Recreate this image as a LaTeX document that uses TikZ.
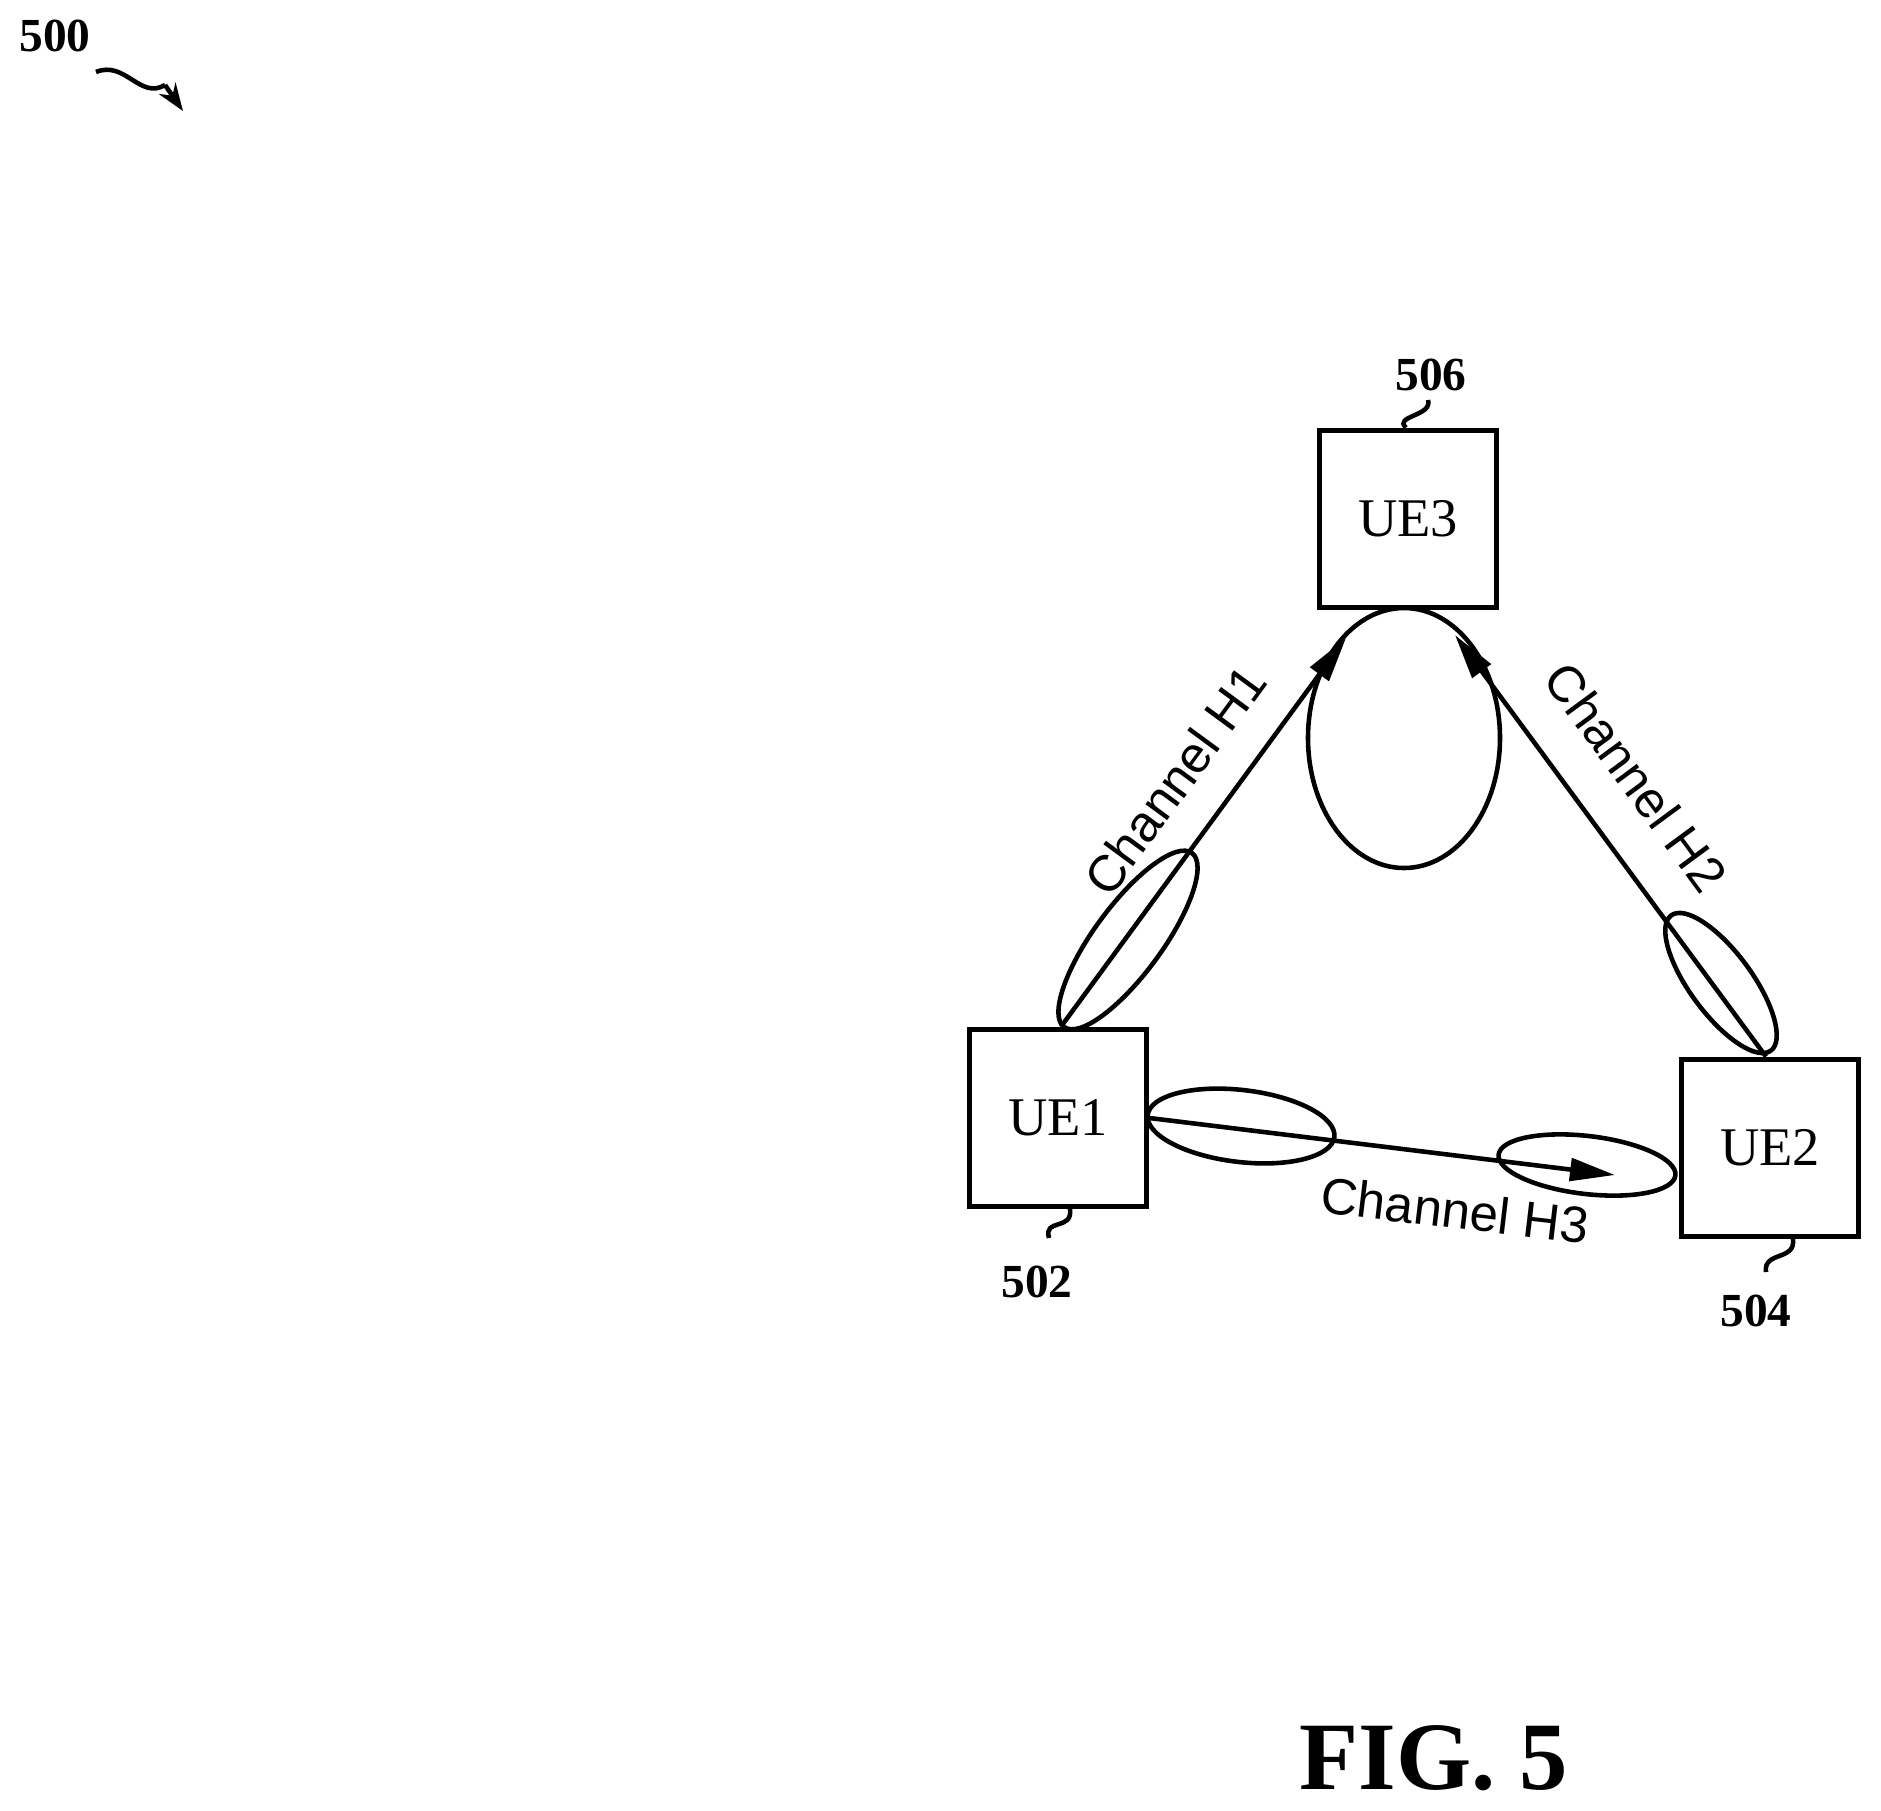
\documentclass[tikz,border=0pt]{standalone}
\usepackage{fontspec}
\setmainfont{Liberation Serif}
\newfontfamily\arialfont{Liberation Sans}
\usetikzlibrary{arrows.meta,positioning,shapes}

\begin{document}
\begin{tikzpicture} [x=0.02cm,y=-0.02cm,line width=2.6pt,
  ue/.style={draw,line width=3pt,minimum size=3.55cm,inner sep=0pt,font=\fontsize{31}{31}\selectfont},
  ref/.style={font=\bfseries\fontsize{27}{27}\selectfont},
  chan/.style={font=\arialfont\fontsize{29}{29}\selectfont},
  sig/.style={-{Triangle[length=0.9cm,width=0.45cm]}}]

  \useasboundingbox (0,0) rectangle (1881,1810);

  \begin{scope}[shift={(-7,-4)}]
  \node[ue] (3) at (1415,523) {UE3};
  \node[ue] (1) at (1065,1122) {UE1};
  \node[ue] (2) at (1777,1152) {UE2};

  \node[ref] (r506) at (1438,379) {506};
  \node[ref] (r502) at (1044,1286) {502};
  \node[ref] (r504) at (1763,1315) {504};
  \node[font=\bfseries\fontsize{55}{55}\selectfont] (fig) at (1441,1762) {FIG. 5};

  % reference squiggles
  \draw (3.north) ++(-2,0) .. controls (1400,420) and (1440,420) .. (1435,404);
  \draw (1077,1213) .. controls (1080,1235) and (1050,1222) .. (1056,1242);
  \draw (1800,1243) .. controls (1803,1265) and (1770,1255) .. (1773,1276);

  % channels
  \coordinate (t1) at (1353,642);
  \coordinate (t2) at (1462,639);
  \coordinate (t3) at (1622,1179);
  \draw[sig] (1.north) ++(3,0) -- (t1);
  \draw[sig] (2.north) ++(-4,0) -- (t2);
  \draw[sig] (1.east) -- (t3);

  % beams
  \draw (1411,742) ellipse [x radius=96, y radius=130];
  \draw[rotate around={53.7:(1135,944)}] (1135,944) ellipse [x radius=108, y radius=34];
  \draw[rotate around={126.4:(1728,987)}] (1728,987) ellipse [x radius=84, y radius=31];
  \draw[rotate around={-6.7:(1248,1130)}] (1248,1130) ellipse [x radius=94, y radius=36];
  \draw[rotate around={-6.7:(1594,1169)}] (1594,1169) ellipse [x radius=89, y radius=29];

  \node[chan,rotate=53.7] (h1) at (1182,784) {Channel H1};
  \node[chan,rotate=-53.6] (h2) at (1643,781) {Channel H2};
  \node[chan,rotate=-6.7] (h3) at (1462,1214) {Channel H3};
  \end{scope}

  \node[ref] (r500) at (55,36) {500};
  \draw (96,72) .. controls (125,60) and (140,100) .. (165,85);
  \draw[-{Stealth[length=0.55cm,width=0.4cm]}] (165,85) -- (183,111);
\end{tikzpicture}
\end{document}
